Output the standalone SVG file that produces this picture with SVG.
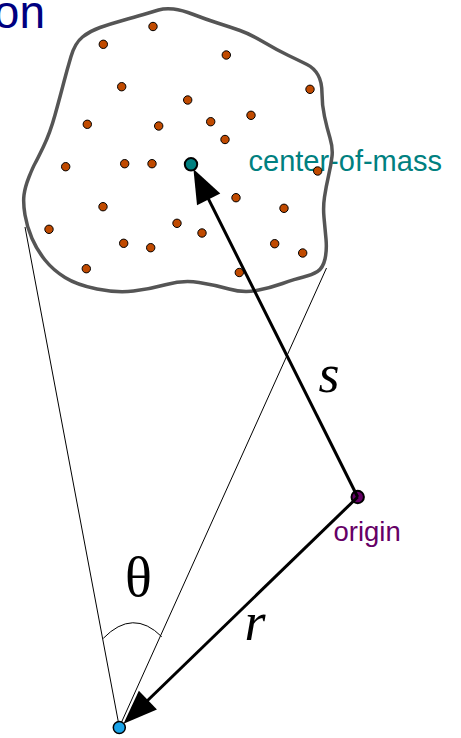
<svg xmlns="http://www.w3.org/2000/svg" width="461" height="738" viewBox="0 0 461 738">
  <style>
    .blob { fill: none; stroke: #555555; stroke-width: 3.5; stroke-linejoin: round; }
    .particle { fill: #c04a00; stroke: #000000; stroke-width: 1; }
    .thin { stroke: #000000; stroke-width: 1; fill: none; }
    .vec { stroke: #000000; stroke-width: 3; fill: none; }
    .sans { font-family: "Liberation Sans", Arial, sans-serif; }
    .math { font-family: "Liberation Serif", "Times New Roman", serif; fill: #000000; }
  </style>
  <defs>
    <marker id="head" markerUnits="userSpaceOnUse" markerWidth="34" markerHeight="26" refX="22" refY="13" orient="auto" overflow="visible">
      <path d="M0,0 L34,13 L0,26 Z" fill="#000000"/>
    </marker>
  </defs>

  <rect width="461" height="738" fill="#ffffff"/>

  <text class="sans" x="45" y="28" font-size="46" fill="#000080" text-anchor="end">on</text>

  <g id="label-center-of-mass">
    <text class="sans" x="248.5" y="171" font-size="29" fill="#008080">center-of-mass</text>
  </g>

  <g id="body">
    <path class="blob" d="M 43.5,146.5 Q 50,133 55,115 Q 60,97 63.5,83.5 Q 67,70 71,56.5 Q 75,43 82.5,37 Q 90,31 100,27.5 Q 110,24 122.5,20.5 Q 135,17 143.5,14.5 Q 152,12 158.5,10 Q 165,8 173.5,9 Q 182,10 193.5,14.5 Q 205,19 217.5,23 Q 230,27 240,30.5 Q 250,34 263.5,42 Q 277,50 288.5,55.5 Q 300,61 307,64.5 Q 314,68 318,75 Q 322,82 322,93.5 Q 322,105 324.5,116.5 Q 327,128 330,138 Q 333,148 332,156.5 Q 331,165 328.5,176 Q 326,187 324.5,197 Q 323,207 324,217.5 Q 325,228 326,239 Q 327,250 325,259 Q 323,268 317.5,271.5 Q 312,275 303.5,277 Q 295,279 282.5,283.5 Q 270,288 256.5,290.5 Q 243,293 229,289 Q 215,285 199,282.5 Q 183,280 166.5,284.5 Q 150,289 133.5,291 Q 117,293 97,289 Q 77,285 65,277.5 Q 53,270 45,260 Q 37,250 32,238.5 Q 27,227 25,215 Q 23,203 24,195 Q 25,187 29,177 Q 33,167 35,163.5 Q 37,160 43.5,146.5 Z"/>
    <g id="particles">
      <circle class="particle" cx="153" cy="26.5" r="4.2"/>
      <circle class="particle" cx="103.3" cy="44.3" r="4.2"/>
      <circle class="particle" cx="226.3" cy="55" r="4.2"/>
      <circle class="particle" cx="310" cy="89.3" r="4.2"/>
      <circle class="particle" cx="121.7" cy="86.7" r="4.2"/>
      <circle class="particle" cx="187.7" cy="100" r="4.2"/>
      <circle class="particle" cx="251" cy="115.3" r="4.2"/>
      <circle class="particle" cx="87.3" cy="124.3" r="4.2"/>
      <circle class="particle" cx="158.7" cy="126" r="4.2"/>
      <circle class="particle" cx="210.7" cy="121.7" r="4.2"/>
      <circle class="particle" cx="225" cy="139.5" r="4.2"/>
      <circle class="particle" cx="65.7" cy="166.7" r="4.2"/>
      <circle class="particle" cx="124.7" cy="163.7" r="4.2"/>
      <circle class="particle" cx="152" cy="163.7" r="4.2"/>
      <circle class="particle" cx="317.7" cy="171" r="4.2"/>
      <circle class="particle" cx="236" cy="197.7" r="4.2"/>
      <circle class="particle" cx="103" cy="206.7" r="4.2"/>
      <circle class="particle" cx="284" cy="208.3" r="4.2"/>
      <circle class="particle" cx="177" cy="223.3" r="4.2"/>
      <circle class="particle" cx="49" cy="229.3" r="4.2"/>
      <circle class="particle" cx="202" cy="233" r="4.2"/>
      <circle class="particle" cx="123.7" cy="243.3" r="4.2"/>
      <circle class="particle" cx="150.7" cy="247.7" r="4.2"/>
      <circle class="particle" cx="274.7" cy="243.7" r="4.2"/>
      <circle class="particle" cx="302.7" cy="253" r="4.2"/>
      <circle class="particle" cx="86.3" cy="268.7" r="4.2"/>
      <circle class="particle" cx="239.3" cy="272.5" r="4.2"/>
    </g>
  </g>

  <g id="connectors">
    <line class="thin" x1="25" y1="227" x2="119.3" y2="727"/>
    <line class="thin" x1="326.5" y1="268" x2="119.8" y2="726"/>
    <path class="thin" d="M 103.3,638.3 Q 133,608 161.7,636.7"/>
  </g>

  <g id="origin">
    <circle cx="357.7" cy="497" r="6.2" fill="#660066" stroke="#000000" stroke-width="2"/>
    <text class="sans" x="333.5" y="541" font-size="27.5" fill="#660066">origin</text>
  </g>

  <g id="center-of-mass">
    <circle cx="191" cy="164.3" r="6.2" fill="#008080" stroke="#000000" stroke-width="2"/>
  </g>

  <g id="observer">
    <circle cx="119.3" cy="727.5" r="6" fill="#1aa3e8" stroke="#000000" stroke-width="1.5"/>
  </g>

  <g id="vectors">
    <line class="vec" x1="357.7" y1="497" x2="198.8" y2="179.7" marker-end="url(#head)"/>
    <line class="vec" x1="357.7" y1="497" x2="132.1" y2="715.5" marker-end="url(#head)"/>
  </g>

  <g id="labels">
    <text class="math" x="329" y="392" font-size="54" font-style="italic" text-anchor="middle">s</text>
    <text class="math" x="255" y="640" font-size="54" font-style="italic" text-anchor="middle">r</text>
    <text class="math" x="138.5" y="596" font-size="56" text-anchor="middle">θ</text>
  </g>
</svg>
